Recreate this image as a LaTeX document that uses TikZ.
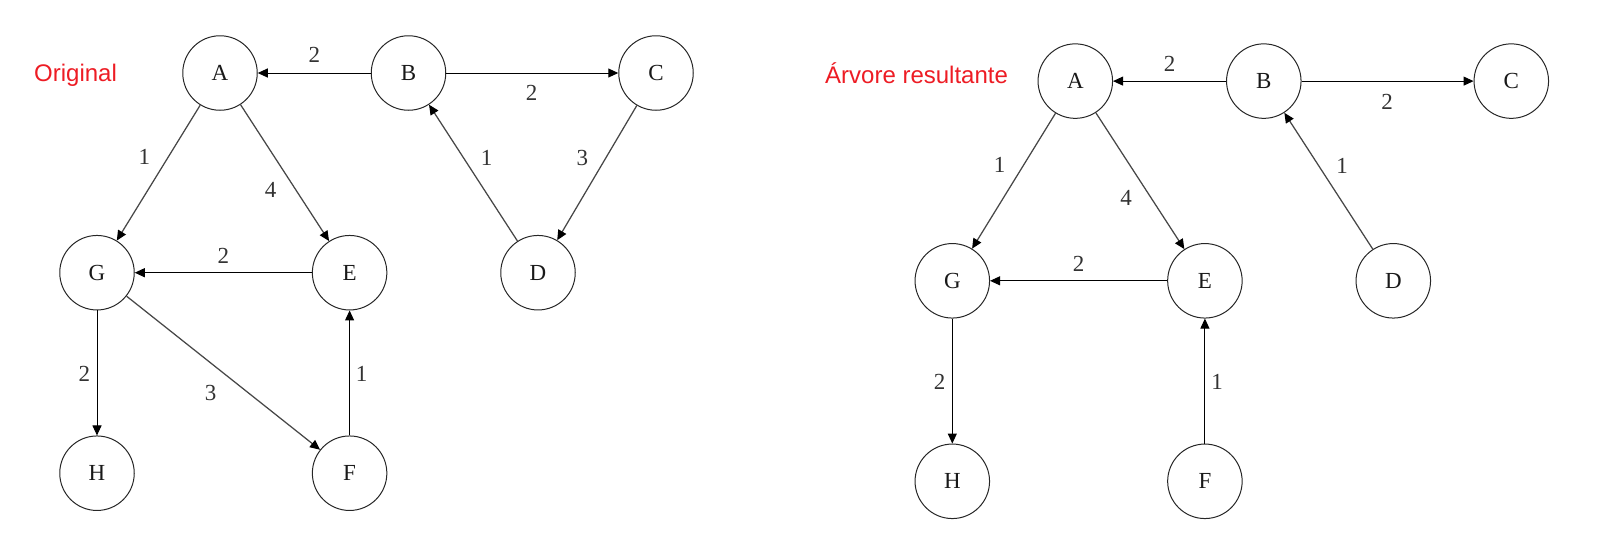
\documentclass[tikz,border=0pt]{standalone}
\usepackage{fontspec}
\setmainfont{Liberation Serif}
\newfontfamily\titlefont{Liberation Sans}
\usetikzlibrary{arrows.meta}
\definecolor{titlered}{RGB}{237,28,36}
\tikzset{
  vert/.style={circle, draw=black!85, line width=1pt, minimum size=74.5pt, inner sep=0pt,
               font=\fontsize{23}{27}\selectfont, text=black!90},
  edge/.style={draw=black, line width=1pt, -{Triangle[length=10pt,width=9pt,color=black]}},
  diag/.style={edge, draw=black!72, line width=1.25pt},
  wlabel/.style={inner sep=0pt, font=\fontsize{23}{27}\selectfont, text=black!80},
  titletext/.style={inner sep=0pt, anchor=base west, text=titlered,
               font=\titlefont\fontsize{24}{28}\selectfont}
}
\begin{document}
\begin{tikzpicture}[x=1pt, y=-1pt]
\useasboundingbox (0,0) rectangle (1624,550);

% ---------------- Original ----------------
\node[titletext] (t1) at (34,81) {Original};

\node[vert] (A) at (220,73) {A};
\node[vert] (B) at (408.5,73) {B};
\node[vert] (C) at (656,73) {C};
\node[vert] (G) at (97,272.7) {G};
\node[vert] (E) at (349.6,272.7) {E};
\node[vert] (D) at (538,272.7) {D};
\node[vert] (H) at (97,473.2) {H};
\node[vert] (F) at (349.6,473.2) {F};

\draw[edge] (B) -- (A);
\draw[edge] (B) -- (C);
\draw[diag] (D) -- (B);
\draw[diag] (C) -- (D);
\draw[diag] (A) -- (G);
\draw[diag] (A) -- (E);
\draw[edge] (E) -- (G);
\draw[edge] (G) -- (H);
\draw[diag] (G) -- (F);
\draw[edge] (F) -- (E);

\node[wlabel] (wBA) at (314.3,55.3) {2};
\node[wlabel] (wBC) at (531.7,93.3) {2};
\node[wlabel] (wDB) at (486.7,157.7) {1};
\node[wlabel] (wCD) at (582.3,158.3) {3};
\node[wlabel] (wAG) at (144.3,156.7) {1};
\node[wlabel] (wAE) at (270.7,190) {4};
\node[wlabel] (wEG) at (223.3,255.7) {2};
\node[wlabel] (wGH) at (84.3,374) {2};
\node[wlabel] (wGF) at (210.7,392.7) {3};
\node[wlabel] (wFE) at (361.7,374) {1};

% ---------------- Árvore resultante ----------------
\node[titletext] (t2) at (825,83.3) {Árvore resultante};

\begin{scope}[shift={(855.3,8.1)}]
\node[vert] (rA) at (220,73) {A};
\node[vert] (rB) at (408.5,73) {B};
\node[vert] (rC) at (656,73) {C};
\node[vert] (rG) at (97,272.7) {G};
\node[vert] (rE) at (349.6,272.7) {E};
\node[vert] (rD) at (538,272.7) {D};
\node[vert] (rH) at (97,473.2) {H};
\node[vert] (rF) at (349.6,473.2) {F};

\draw[edge] (rB) -- (rA);
\draw[edge] (rB) -- (rC);
\draw[diag] (rD) -- (rB);
\draw[diag] (rA) -- (rG);
\draw[diag] (rA) -- (rE);
\draw[edge] (rE) -- (rG);
\draw[edge] (rG) -- (rH);
\draw[edge] (rF) -- (rE);

\node[wlabel] (rwBA) at (314.3,55.3) {2};
\node[wlabel] (rwBC) at (531.7,93.3) {2};
\node[wlabel] (rwDB) at (486.7,157.7) {1};
\node[wlabel] (rwAG) at (144.3,156.7) {1};
\node[wlabel] (rwAE) at (270.7,190) {4};
\node[wlabel] (rwEG) at (223.3,255.7) {2};
\node[wlabel] (rwGH) at (84.3,374) {2};
\node[wlabel] (rwFE) at (361.7,374) {1};
\end{scope}
\end{tikzpicture}
\end{document}
